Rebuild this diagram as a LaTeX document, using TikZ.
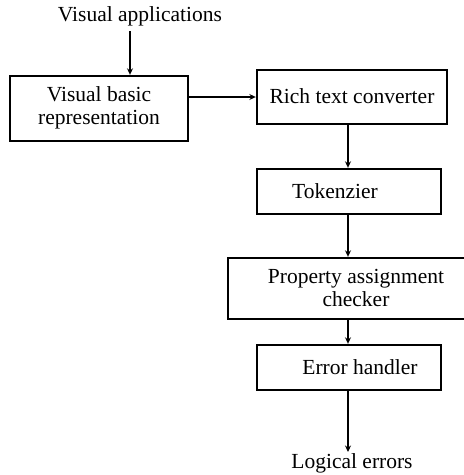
\documentclass[tikz,border=0pt]{standalone}
\usepackage{fontspec}
\setmainfont{Liberation Serif}
\usetikzlibrary{arrows.meta}
\begin{document}
\begin{tikzpicture}[x=1pt,y=-1pt,
  box/.style={draw=black,line width=2.4pt,inner sep=0pt,fill=white},
  lbl/.style={font=\fontsize{21.5}{23}\selectfont,align=center,inner sep=0pt,text=black},
  arr/.style={line width=2.4pt,-{Stealth[length=6.5pt,width=6pt]}}]
\useasboundingbox (0,0) rectangle (464,475);
\clip (0,0) rectangle (464,475);
% boxes
\node[box,minimum width=178pt,minimum height=65pt] (b1) at (99,108.5) {};
\node[box,minimum width=190pt,minimum height=54pt] (b2) at (352,97) {};
\node[box,minimum width=184pt,minimum height=45pt] (b3) at (349,191.5) {};
\node[box,minimum width=242pt,minimum height=61pt] (b4) at (349,288.5) {};
\node[box,minimum width=184pt,minimum height=45pt] (b5) at (349,367.5) {};
% labels
\node[lbl] (va) at (140,16) {Visual applications};
\node[lbl] (t1) at (99,108) {Visual basic\\representation};
\node[lbl] (t2) at (352,96) {Rich text converter};
\node[lbl] (t3) at (335,191) {Tokenzier};
\node[lbl] (t4) at (356,288) {Property assignment\\checker};
\node[lbl] (t5) at (360,367) {Error handler};
\node[lbl] (le) at (352,463) {Logical errors};
% connectors
\coordinate (vaend) at (130,31);
\draw[arr] (vaend) -- (b1.north -| vaend);
\draw[arr] (b1.east |- 0,97) -- (b2.west |- 0,97);
\draw[arr] (b2.south -| 348,0) -- (b3.north -| 348,0);
\draw[arr] (b3.south -| 348,0) -- (b4.north -| 348,0);
\draw[arr] (b4.south -| 348,0) -- (b5.north -| 348,0);
\coordinate (leend) at (348,452);
\draw[arr] (b5.south -| 348,0) -- (leend);
\end{tikzpicture}
\end{document}
